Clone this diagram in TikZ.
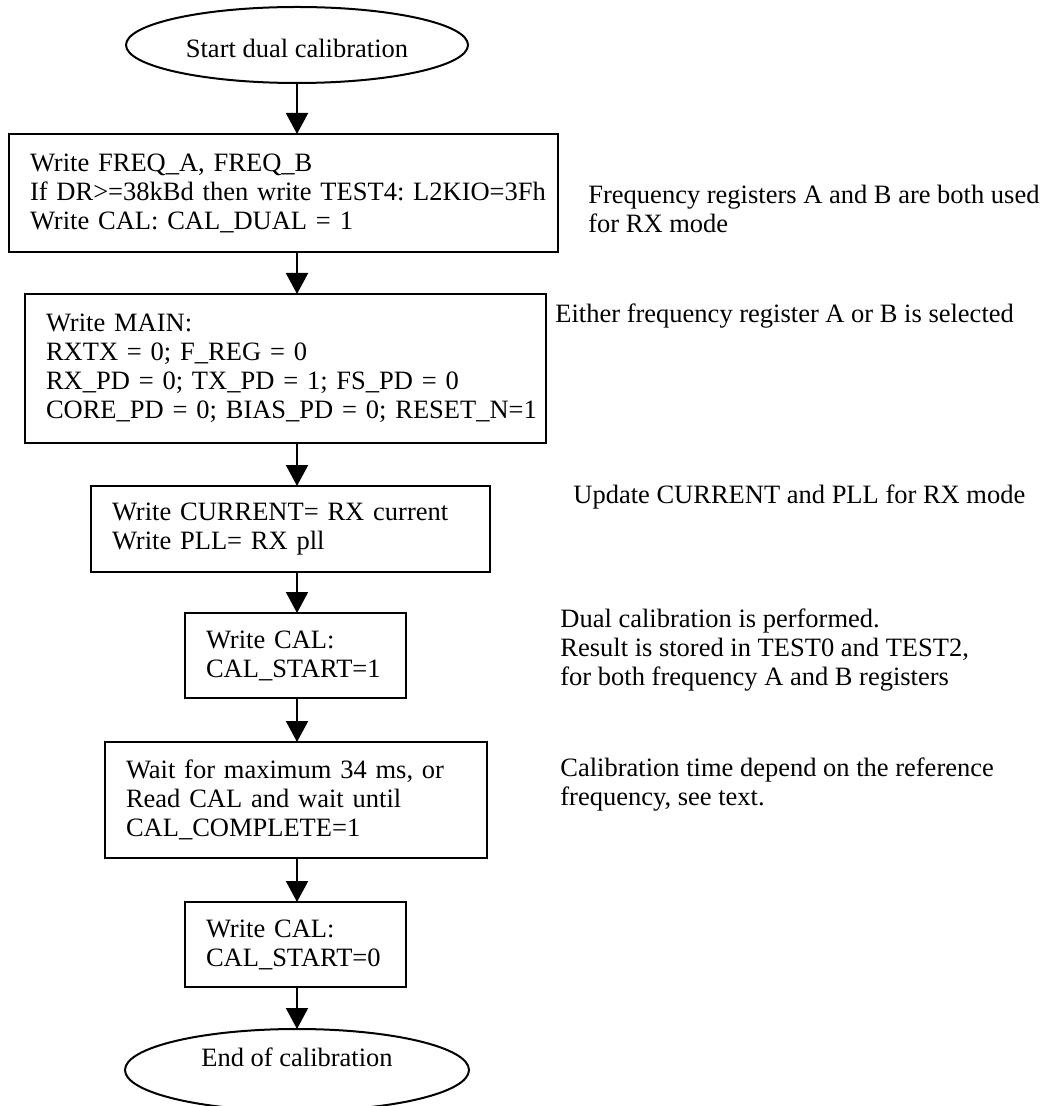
\documentclass[tikz,border=0pt]{standalone}
\usepackage{fontspec}
\setmainfont{Liberation Serif}
\usetikzlibrary{positioning,arrows.meta,shapes.geometric}

\begin{document}
\begin{tikzpicture}[
  x=0.5pt, y=-0.5pt,
  every node/.style={font=\fontsize{13.25pt}{14.5pt}\selectfont\frenchspacing},
  box/.style={draw, line width=1pt, outer sep=0pt, inner xsep=10.5pt, inner ysep=0pt, align=left},
  term/.style={draw, ellipse, line width=1pt, outer sep=0pt, inner sep=0pt},
  note/.style={anchor=west, align=left, inner sep=0pt},
  arr/.style={-{Triangle[length=10.5pt,width=11pt]}, line width=1pt}]
\useasboundingbox (0,0) rectangle (1048,1106);
\node[term, minimum width=171pt, minimum height=38pt, text height=16pt, text depth=3pt] (start) at (297,45) {Start dual calibration};
\node[box, text width=253.5pt, minimum height=59pt, below=25.5pt of start, xshift=-6.75pt] (freq) {Write FREQ\_A, FREQ\_B\\\mbox{If DR>=38kBd then write TEST4: L2KIO=3Fh}\\Write CAL: CAL\_DUAL = 1};
\node[box, text width=239.5pt, minimum height=74.5pt, below=21pt of freq, xshift=1pt] (main) {Write MAIN:\\RXTX = 0; F\_REG = 0\\RX\_PD = 0; TX\_PD = 1; FS\_PD = 0\\\mbox{CORE\_PD = 0; BIAS\_PD = 0; RESET\_N=1}};
\node[box, text width=178.5pt, minimum height=43pt, below=21.5pt of main, xshift=2.5pt] (curr) {Write CURRENT= RX current\\Write PLL= RX pll};
\node[box, text width=89.5pt, minimum height=42.5pt, below=20.5pt of curr, xshift=2.5pt] (calon) {Write CAL:\\\mbox{CAL\_START=1}};
\node[box, text width=170pt, minimum height=58pt, below=22pt of calon, xshift=0.25pt] (wait) {Wait for maximum 34 ms, or\\Read CAL and wait until\\CAL\_COMPLETE=1};
\node[box, text width=89.5pt, minimum height=42.5pt, below=22pt of wait, xshift=-0.25pt] (caloff) {Write CAL:\\\mbox{CAL\_START=0}};
\node[term, minimum width=172pt, minimum height=41pt, text height=7pt, text depth=11pt, below=21pt of caloff, xshift=0.75pt] (stop) {End of calibration};
% notes on the right
\node[note] (nfreq) at (588,208.5) {Frequency registers A and B are both used\\for RX mode};
\node[note] (nmain) at (555,316) {Either frequency register A or B is selected};
\node[note] (ncurr) at (573,497) {Update CURRENT and PLL for RX mode};
\node[note] (ncal) at (560,650) {Dual calibration is performed.\\Result is stored in TEST0 and TEST2,\\for both frequency A and B registers};
\node[note] (nwait) at (560,785) {Calibration time depend on the reference\\frequency, see text.};
% flow
\draw[arr] (start) -- (freq.north -| start);
\draw[arr] (freq.south -| start) -- (main.north -| start);
\draw[arr] (main.south -| start) -- (curr.north -| start);
\draw[arr] (curr.south -| start) -- (calon.north -| start);
\draw[arr] (calon.south -| start) -- (wait.north -| start);
\draw[arr] (wait.south -| start) -- (caloff.north -| start);
\draw[arr] (caloff.south -| start) -- (stop);
\end{tikzpicture}
\end{document}
